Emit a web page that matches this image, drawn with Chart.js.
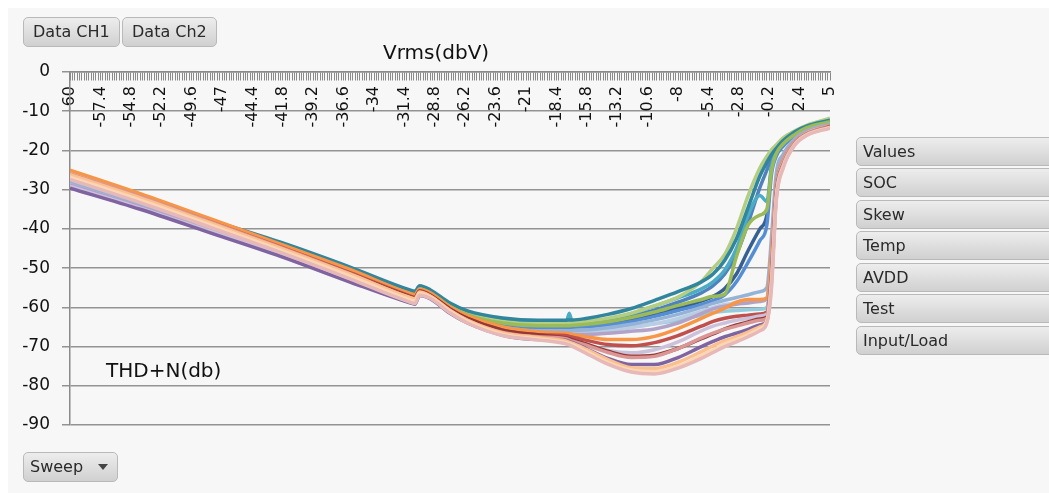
<!DOCTYPE html>
<html><head><meta charset="utf-8">
<script src="https://cdn.jsdelivr.net/npm/chart.js@4.4.1/dist/chart.umd.min.js"></script>
<style>
html,body{margin:0;padding:0;background:#fff;width:1049px;height:493px;overflow:hidden;font-family:"DejaVu Sans",sans-serif;}
#panel{position:absolute;left:8px;top:8px;width:1041px;height:485px;background:#f7f7f7;}
#c{position:absolute;left:0;top:0;}
.btn{position:absolute;box-sizing:border-box;height:30px;border:1px solid #b9b9b9;border-radius:5px;background:linear-gradient(#ededed,#d0d0d0);color:#2a2a2a;font-size:16px;line-height:28px;padding-left:9px;white-space:nowrap;overflow:hidden;}
.fld{left:856px;width:210px;height:29px;line-height:27px;padding-left:6px;border-radius:5px 0 0 5px;}
.ttl{position:absolute;font-size:20px;color:#111;white-space:nowrap;line-height:24px;}
.tri{position:absolute;left:74px;top:11px;width:0;height:0;border-left:5px solid transparent;border-right:5px solid transparent;border-top:6px solid #444;}
</style></head>
<body>
<div id="panel"></div>
<canvas id="c" width="1049" height="493"></canvas>
<div class="btn" style="left:23px;top:17px;width:97px;">Data CH1</div>
<div class="btn" style="left:122px;top:17px;width:95px;">Data Ch2</div>
<div class="btn fld" style="top:137px;">Values</div>
<div class="btn fld" style="top:168px;">SOC</div>
<div class="btn fld" style="top:200px;">Skew</div>
<div class="btn fld" style="top:231px;">Temp</div>
<div class="btn fld" style="top:263px;">AVDD</div>
<div class="btn fld" style="top:294px;">Test</div>
<div class="btn fld" style="top:326px;">Input/Load</div>
<div class="btn" style="left:23px;top:452px;width:95px;padding-left:6px;">Sweep<span class="tri"></span></div>
<div class="ttl" style="left:383px;top:40px;">Vrms(dbV)</div>
<div class="ttl" style="left:106px;top:358px;">THD+N(db)</div>
<script>
// x positions (dBV) at which values were read
const X = [-60, -54, -48, -42, -36, -31, -30.5, -30.1, -29.2, -27.5, -26, -23, -20,
  -17.6, -17.3, -17, -16, -14, -12, -10, -8, -6, -5, -4, -3, -2, -1, -0.4, 0, 0.4, 1, 2, 3, 5];
const Y_TICKS = [0, -10, -20, -30, -40, -50, -60, -70, -80, -90];

const S1 = [-26.6,-32.2,-37.8,-43.4,-49.8,-55.5,-55.9,-54.5,-55.5,-58.9,-60.9,-62.7,-63.3,
  -63.3,-63.2,-63.2,-62.9,-61.8,-60.3,-58.2,-56,-53.5,-51.5,-48,-42.5,-34.5,-26.5,-23,-21,-19.5,-17.5,-15.2,-13.8,-12.3];
const S2 = [-27.1,-32.6,-38.2,-43.8,-50.2,-55.9,-56.3,-54.9,-55.9,-59.3,-61.3,-63.2,-63.9,
  -64.2,-61.5,-64.2,-64,-63,-61.6,-59.7,-57.6,-55.3,-53.5,-50.5,-45,-36.5,-31.5,-33,-24,-20.5,-18.2,-15.8,-14.2,-12.8];
const S3 = [-27.2,-32.8,-38.4,-44,-50.4,-56,-56.4,-55,-56,-59.5,-61.6,-63.6,-64.2,
  -64,-64,-63.9,-63.6,-62.8,-61.5,-59.6,-57.4,-53.4,-50,-46.5,-40,-31.5,-24.5,-21.5,-19.8,-18.6,-16.8,-15,-13.6,-11.8];
const S4 = [-27.3,-32.9,-38.6,-44.4,-50.7,-56.3,-56.7,-55.2,-56.2,-59.7,-61.8,-63.9,-64.5,
  -64.6,-64.6,-64.5,-64.3,-63.5,-62.2,-60.7,-58.7,-56.3,-54.5,-51.5,-46.5,-38.5,-29.5,-25,-22,-20.5,-18.3,-15.9,-14.3,-12.9];
const S5 = [-27.5,-33.2,-39.1,-45,-51.3,-56.9,-57.3,-55.5,-56.5,-60,-62.1,-64.3,-64.9,
  -64.9,-64.9,-64.8,-64.7,-64.2,-63.2,-61.8,-60.2,-58.4,-57.2,-55.2,-51.5,-45.5,-40,-36.5,-24.5,-21,-18.6,-16.1,-14.4,-13];
const S6 = [-27.6,-33.4,-39.4,-45.3,-51.7,-57.2,-57.6,-55.7,-56.7,-60.2,-62.4,-64.6,-65.2,
  -65.2,-65.2,-65.1,-65,-64.5,-63.6,-62.3,-60.8,-59.3,-58.3,-56.8,-53.5,-48.5,-43,-39,-26,-21.5,-18.9,-16.3,-14.6,-13.2];
const S7 = [-27.4,-33,-38.8,-44.6,-50.9,-56.5,-56.9,-55.3,-56.3,-59.8,-61.9,-64,-64.7,
  -64.7,-64.7,-64.6,-64.4,-63.7,-62.6,-61.2,-59.5,-58,-57.2,-56.6,-47,-39,-36.5,-35,-25,-20.8,-18.3,-15.9,-14.2,-12.7];
const S8 = [-27.8,-33.6,-39.5,-45.5,-51.9,-57.4,-57.8,-55.9,-56.9,-60.4,-62.6,-65.1,-66,
  -66,-66,-65.9,-65.8,-65.2,-64.3,-63.2,-61.8,-60,-59,-58.2,-57.5,-56.8,-56,-55,-42,-26,-21,-17,-15,-13.3];
const S9 = [-28.8,-34.4,-40.3,-46.3,-52.7,-58.1,-58.5,-56.5,-57.4,-61,-63.3,-65.9,-66.8,
  -66.9,-66.9,-66.9,-66.9,-66.6,-66.1,-65.5,-64,-61.6,-60.4,-59.7,-59.2,-58.9,-58.5,-57.8,-45,-28,-22,-17.5,-15.3,-13.5];
const S10 = [-25,-31,-37.4,-43.9,-50.4,-56.4,-56.8,-55.3,-56.3,-59.9,-62.2,-65,-66.2,
  -66.6,-66.7,-66.9,-67.4,-68.2,-68.2,-67.4,-65.4,-62.8,-61.5,-60.2,-58.7,-58,-58,-57.6,-46,-29,-22.5,-17.8,-15.5,-13.6];
const S11 = [-28.1,-33.9,-39.8,-45.8,-52.2,-57.6,-58,-56,-57,-60.6,-62.8,-65.4,-66.2,
  -66.2,-66.2,-66.1,-66,-65.6,-65,-64.2,-63.3,-62,-61.3,-61,-60.8,-60.6,-60.5,-60,-47,-29,-22.5,-17.8,-15.5,-13.6];
const S12 = [-26.1,-31.9,-38.2,-44.6,-51.2,-57,-57.4,-55.8,-56.8,-60.4,-62.8,-65.8,-67,
  -67.2,-67.4,-67.6,-68.3,-69.5,-69.8,-69,-67.2,-64.8,-63.6,-62.8,-62.3,-62,-61.7,-61.2,-50,-30,-23,-18,-15.7,-13.8];
const S13 = [-26.4,-32.2,-38.5,-44.9,-51.5,-57.2,-57.6,-55.9,-56.9,-60.4,-62.8,-65.8,-67,
  -67.8,-68,-68.3,-69.2,-71.2,-72.5,-72.2,-70.5,-68,-66.8,-65.5,-64.5,-63.7,-63,-62.5,-51,-31,-23.5,-18.2,-15.8,-13.9];
const S14 = [-25.9,-31.8,-38.2,-44.7,-51.5,-57.5,-57.9,-56.2,-57.2,-60.8,-63.3,-66.4,-67.5,
  -68,-68.3,-68.6,-69.5,-71.5,-72.8,-72.5,-70.5,-67.8,-66.6,-65.6,-64.8,-64,-63.3,-62.8,-52,-31.5,-23.5,-18.2,-15.8,-14];
const S15 = [-29.6,-35,-41,-47,-53.6,-58.8,-59.2,-57,-57.8,-61.5,-64,-67.1,-68.2,
  -68.4,-68.7,-69,-70.3,-73,-74.6,-74.6,-72.8,-70,-68.7,-67.5,-66.6,-65.6,-64.5,-63.5,-53,-32,-24,-18.4,-16,-14.1];
const S16 = [-26.2,-32.1,-38.5,-44.9,-51.6,-57.4,-57.8,-56.1,-57.1,-60.8,-63.3,-66.5,-67.7,
  -68.6,-68.9,-69.2,-70.5,-73.3,-75.4,-75.6,-74,-71.3,-69.8,-68.5,-67.5,-66.3,-65,-63.3,-53,-32,-24,-18.4,-16,-14.1];
const S17 = [-27.4,-33.3,-39.6,-46,-52.8,-58.6,-59,-56.9,-57.7,-61.4,-64,-67.2,-68.3,
  -69.3,-69.6,-70,-71.5,-74.5,-76.5,-77,-75.5,-73,-71.5,-70,-68.8,-67.5,-66,-64,-55,-33,-24.5,-18.6,-16.2,-14.3];
const S18 = [-29.2,-34.7,-40.6,-46.6,-53.1,-58.4,-58.8,-56.7,-57.6,-61.2,-63.8,-66.9,-67.9,
  -68,-68.2,-68.5,-69.3,-71,-71.6,-70.8,-68.8,-66,-64.8,-64,-63.3,-62.8,-62.2,-61.7,-49,-30,-23,-18,-15.6,-13.8];
const S19 = [-28.5,-34.2,-40.1,-46.1,-52.5,-58,-58.4,-56.4,-57.3,-60.9,-63.2,-65.8,-66.7,
  -66.8,-66.8,-66.7,-66.5,-66,-65.2,-64.2,-62.8,-61,-60,-59.3,-58.8,-58.5,-58.2,-58,-44,-27,-21.5,-17.3,-15.2,-13.4];
const S20 = [-26.8,-32.7,-39,-45.4,-52.1,-58,-58.4,-56.5,-57.4,-61,-63.6,-66.9,-68,
  -69,-69.3,-69.6,-71,-74,-76,-76.4,-75,-72.3,-70.8,-69.3,-68.2,-67,-65.5,-63.6,-54,-32.5,-24.2,-18.5,-16.1,-14.2];

// painting order, first = underneath, last = on top
const SERIES = [
  ['S5', S5, '#376092'], ['S6', S6, '#558ED5'], ['S4', S4, '#4F81BD'], ['S2', S2, '#4BACC6'],
  ['S3', S3, '#B3CD83'], ['S1', S1, '#31859C'], ['S7', S7, '#9BBB59'],
  ['S11', S11, '#93CDDD'], ['S19', S19, '#B9CDE5'], ['S8', S8, '#95B3D7'], ['S9', S9, '#B3A2C7'],
  ['S10', S10, '#F79646'], ['S12', S12, '#C0504D'], ['S18', S18, '#CCC1DA'], ['S13', S13, '#953735'],
  ['S14', S14, '#D99694'], ['S15', S15, '#8064A2'], ['S16', S16, '#FAC090'], ['S20', S20, '#FCD5B5'],
  ['S17', S17, '#E6B9B8']
];

// Chart.js paints dataset 0 last, so feed them in reverse
const datasets = SERIES.slice().reverse().map(([name, vals, col]) => ({
  label: name,
  data: X.map((x, i) => ({x: x, y: vals[i]})),
  borderColor: col,
  backgroundColor: col,
  borderWidth: 3.5,
  pointRadius: 0,
  fill: false,
  tension: 0.4,
  cubicInterpolationMode: 'monotone'
}));

const FONT = '"DejaVu Sans", sans-serif';

new Chart(document.getElementById('c'), {
  type: 'line',
  data: {datasets},
  options: {
    responsive: false,
    animation: false,
    layout: {padding: {left: 0, right: 219, top: 72, bottom: 68}},
    plugins: {legend: {display: false}, tooltip: {enabled: false}, title: {display: false}},
    scales: {
      x: {
        type: 'linear', min: -60, max: 5,
        position: {y: 0},
        grid: {display: true, drawOnChartArea: false, drawTicks: true, tickLength: 8, color: '#8a8a8a', lineWidth: 1},
        border: {display: true, color: '#8a8a8a', width: 1.5},
        ticks: {
          stepSize: 0.2, autoSkip: false, maxRotation: 90, minRotation: 90, padding: 6,
          font: {family: FONT, size: 16}, color: '#111',
          callback: (v, i) => (i % 13 === 0 ? String(Math.round(v * 10) / 10) : '')
        }
      },
      y: {
        type: 'linear', min: -90, max: 0, position: 'left',
        afterFit: s => { s.width = 70; },
        afterBuildTicks: s => { s.ticks = Y_TICKS.map(v => ({value: v})); },
        grid: {color: '#939393', lineWidth: 1.5, tickLength: 8, drawTicks: true},
        border: {display: true, color: '#8a8a8a', width: 1.5},
        ticks: {font: {family: FONT, size: 17}, color: '#111', padding: 12}
      }
    }
  }
});
</script>
</body></html>
